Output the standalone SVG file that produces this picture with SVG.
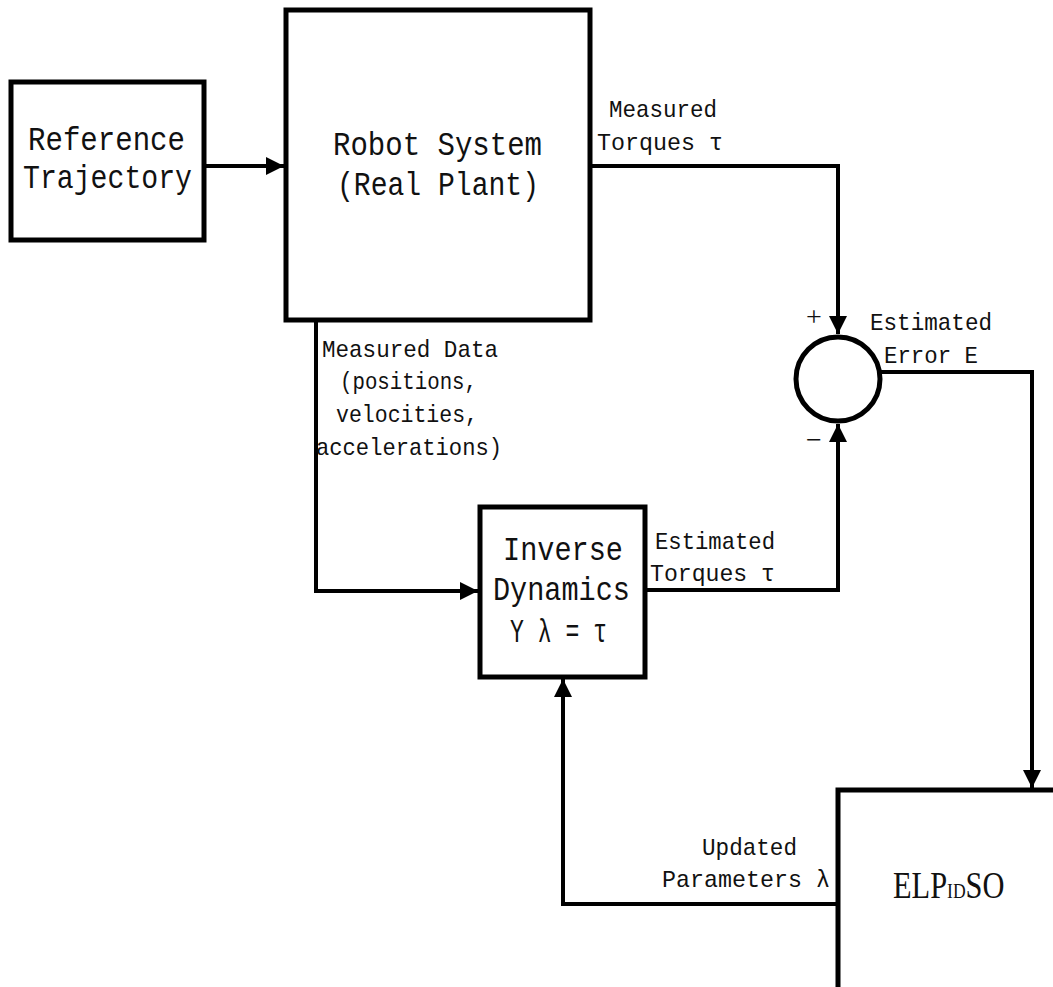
<svg xmlns="http://www.w3.org/2000/svg" width="1053" height="987" viewBox="0 0 1053 987">
<defs>
<style>
.box{fill:#fff;stroke:#000;stroke-width:5}
.conn{fill:none;stroke:#000;stroke-width:4}
.big{font-family:"Liberation Mono",monospace;font-size:33px;fill:#111}
.lbl{font-family:"Liberation Mono",monospace;font-size:24px;fill:#111}
.sign{font-family:"Liberation Serif",serif;font-size:28px;fill:#111}
.sym{font-family:"Liberation Serif",serif;fill:#111}
</style>
<marker id="ah" markerUnits="userSpaceOnUse" markerWidth="20" markerHeight="20" refX="18" refY="9" orient="auto">
<path d="M0,0 L18,9 L0,18 z" fill="#000"/>
</marker>
</defs>
<rect width="1053" height="987" fill="#fff"/>
<g id="connectors">
<path class="conn" d="M205,166 H284" marker-end="url(#ah)"/>
<path class="conn" d="M590,166 H838 V334" marker-end="url(#ah)"/>
<path class="conn" d="M316,320 V591 H478" marker-end="url(#ah)"/>
<path class="conn" d="M645,590 H838 V424" marker-end="url(#ah)"/>
<path class="conn" d="M880,372 H1032 V788" marker-end="url(#ah)"/>
<path class="conn" d="M838,904 H563 V679" marker-end="url(#ah)"/>
</g>
<g id="reference-trajectory">
<rect class="box" x="11" y="82" width="193" height="158"/>
<text class="big" x="28" y="150" textLength="157" lengthAdjust="spacingAndGlyphs">Reference</text>
<text class="big" x="23" y="188" textLength="169" lengthAdjust="spacingAndGlyphs">Trajectory</text>
</g>
<g id="robot-system">
<rect class="box" x="286" y="10" width="304" height="310"/>
<text class="big" x="333" y="155" textLength="209" lengthAdjust="spacingAndGlyphs">Robot System</text>
<text class="big" x="337" y="195" textLength="202" lengthAdjust="spacingAndGlyphs">(Real Plant)</text>
</g>
<g id="summing-junction">
<circle cx="838" cy="379" r="42" fill="#fff" stroke="#000" stroke-width="5"/>
<text class="sign" x="806" y="326">+</text>
<text class="sign" x="806" y="449">−</text>
</g>
<g id="inverse-dynamics">
<rect class="box" x="480" y="507" width="165" height="170"/>
<text class="big" x="503" y="560" textLength="120" lengthAdjust="spacingAndGlyphs">Inverse</text>
<text class="big" x="493" y="600" textLength="137" lengthAdjust="spacingAndGlyphs">Dynamics</text>
<text class="big" x="510" y="642" textLength="97" lengthAdjust="spacingAndGlyphs">Y λ = τ</text>
</g>
<g id="elpidso">
<rect class="box" x="838" y="790" width="240" height="220"/>
<text class="sym" transform="translate(893,898) scale(0.8,1)" font-size="38">ELP<tspan font-size="22">ID</tspan>SO</text>
</g>
<g id="labels">
<text class="lbl" x="609" y="117" textLength="108" lengthAdjust="spacingAndGlyphs">Measured</text>
<text class="lbl" x="597" y="150" textLength="126" lengthAdjust="spacingAndGlyphs">Torques  τ</text>
<text class="lbl" x="870" y="330" textLength="122" lengthAdjust="spacingAndGlyphs">Estimated</text>
<text class="lbl" x="884" y="363" textLength="94" lengthAdjust="spacingAndGlyphs">Error E</text>
<text class="lbl" x="322" y="357" textLength="176" lengthAdjust="spacingAndGlyphs">Measured Data</text>
<text class="lbl" x="340" y="389" textLength="137" lengthAdjust="spacingAndGlyphs">(positions,</text>
<text class="lbl" x="336" y="422" textLength="142" lengthAdjust="spacingAndGlyphs">velocities,</text>
<text class="lbl" x="316" y="455" textLength="186" lengthAdjust="spacingAndGlyphs">accelerations)</text>
<text class="lbl" x="655" y="549" textLength="120" lengthAdjust="spacingAndGlyphs">Estimated</text>
<text class="lbl" x="650" y="581" textLength="125" lengthAdjust="spacingAndGlyphs">Torques  τ</text>
<text class="lbl" x="702" y="855" textLength="95" lengthAdjust="spacingAndGlyphs">Updated</text>
<text class="lbl" x="662" y="887" textLength="168" lengthAdjust="spacingAndGlyphs">Parameters  λ</text>
</g>
</svg>
